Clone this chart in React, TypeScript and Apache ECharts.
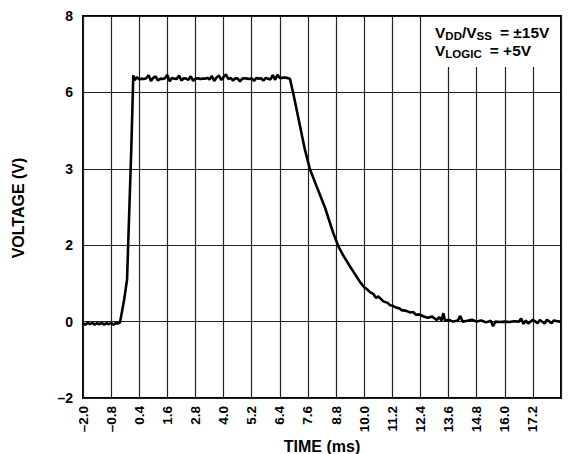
import React, { useEffect, useRef } from "react";
import * as echarts from "echarts";

const xTickLabels = ["–2.0", "–0.8", "0.4", "1.6", "2.8", "4.0", "5.2", "6.4", "7.6", "8.8", "10.0", "11.2", "12.4", "13.6", "14.8", "16.0", "17.2"];
const yTickValues = [-2, 0, 2, 4, 6, 8];
const yTickLabels = ["–2", "0", "2", "3", "6", "8"];

const timeMs = [
  -2.0, -1.9, -1.8, -1.7, -1.6, -1.5, -1.4, -1.3, -1.2, -1.1, -1.0, -0.9, -0.8, -0.7, -0.6, -0.5,
  -0.42, -0.25, -0.12, -0.02, 0.06, 0.146,
  0.2, 0.3, 0.4, 0.5, 0.6, 0.7, 0.8, 0.9, 1.0, 1.1, 1.2, 1.3, 1.4, 1.5, 1.6, 1.7, 1.8, 1.9,
  2.0, 2.1, 2.2, 2.3, 2.4, 2.5, 2.6, 2.7, 2.8, 2.9, 3.0, 3.1, 3.2, 3.3, 3.4, 3.5, 3.6, 3.7, 3.8, 3.9,
  4.0, 4.1, 4.2, 4.3, 4.4, 4.5, 4.6, 4.7, 4.8, 4.9, 5.0, 5.1, 5.2, 5.3, 5.4, 5.5, 5.6, 5.7, 5.8, 5.9,
  6.0, 6.1, 6.2, 6.3, 6.4, 6.5, 6.6, 6.7, 6.83,
  7.0, 7.47, 7.69, 7.97, 8.33, 8.68, 8.9, 9.1, 9.39, 9.6, 9.82, 10.0, 10.1, 10.25, 10.4, 10.5, 10.6, 10.82,
  11.0, 11.1, 11.2, 11.39, 11.5, 11.6, 11.8, 11.95, 12.1, 12.2, 12.35, 12.52, 12.7, 12.9,
  13.1, 13.2, 13.3, 13.38, 13.45, 13.6, 13.8, 14.0, 14.1, 14.2, 14.4, 14.6, 14.8, 15.0, 15.2, 15.4, 15.5, 15.6, 15.8,
  16.0, 16.2, 16.4, 16.6, 16.7, 16.8, 16.9, 17.0, 17.2, 17.4, 17.5, 17.7, 17.8, 18.0, 18.1, 18.3, 18.4
];

const voltage = [
  -0.05, -0.08, -0.03, -0.07, -0.03, -0.08, -0.04, -0.07, -0.03, -0.08, -0.04, -0.07, -0.03, -0.08, -0.04, -0.05,
  -0.02, 0.55, 1.1, 3.0, 4.5, 6.45,
  6.32, 6.40, 6.34, 6.36, 6.35, 6.37, 6.45, 6.30, 6.38, 6.42, 6.31, 6.36, 6.35, 6.37, 6.46, 6.29, 6.38, 6.36,
  6.35, 6.44, 6.31, 6.37, 6.36, 6.33, 6.42, 6.30, 6.36, 6.37, 6.35, 6.36, 6.36, 6.38, 6.34, 6.43, 6.30, 6.39, 6.44, 6.33,
  6.40, 6.47, 6.35, 6.38, 6.31, 6.37, 6.36, 6.29, 6.36, 6.37, 6.36, 6.35, 6.37, 6.30, 6.38, 6.36, 6.37, 6.31, 6.38, 6.36,
  6.34, 6.45, 6.33, 6.46, 6.38, 6.38, 6.39, 6.38, 6.36,
  5.9, 4.5, 3.98, 3.54, 2.98, 2.32, 1.97, 1.74, 1.45, 1.25, 1.04, 0.9, 0.86, 0.77, 0.72, 0.62, 0.66, 0.53,
  0.49, 0.43, 0.42, 0.36, 0.35, 0.30, 0.28, 0.24, 0.25, 0.18, 0.19, 0.14, 0.10, 0.13,
  0.04, 0.12, 0.03, 0.22, 0.02, 0.05, 0.0, 0.03, 0.15, 0.0, 0.02, 0.05, 0.0, 0.03, -0.02, 0.02, -0.12, 0.0, -0.01,
  0.0, -0.01, 0.01, 0.0, 0.08, -0.06, 0.03, -0.05, 0.05, -0.04, 0.04, -0.05, 0.05, -0.04, 0.03, 0.0, 0.01
];

const FONT = "'Liberation Sans', Arial, Helvetica, sans-serif";

export default function App() {
  const ref = useRef<HTMLDivElement>(null);
  useEffect(() => {
    document.body.style.margin = "0";
    const chart = echarts.init(ref.current!, null, { renderer: "svg" });
    const xMin = -2.0;
    const xStep = 1.2;
    chart.setOption({
      animation: false,
      backgroundColor: "#fff",
      grid: { left: 83, right: 14, top: 16, bottom: 56, show: true, borderColor: "#000", borderWidth: 2 },
      xAxis: {
        type: "value",
        min: xMin,
        max: 18.4,
        interval: xStep,
        axisLine: { show: false },
        axisTick: { show: false },
        splitLine: { show: true, lineStyle: { color: "#222", width: 1.2 } },
        axisLabel: {
          rotate: 90,
          margin: 8,
          color: "#000",
          fontFamily: FONT,
          fontWeight: "bold",
          fontSize: 13.5,
          formatter: (v: number) => {
            const i = Math.round((v - xMin) / xStep);
            return xTickLabels[i] ?? "";
          },
        },
      },
      yAxis: {
        type: "value",
        min: -2,
        max: 8,
        interval: 2,
        axisLine: { show: false },
        axisTick: { show: false },
        splitLine: { show: true, lineStyle: { color: "#222", width: 1.2 } },
        axisLabel: {
          margin: 10,
          color: "#000",
          fontFamily: FONT,
          fontWeight: "bold",
          fontSize: 14,
          formatter: (v: number) => {
            const i = yTickValues.indexOf(Math.round(v));
            return i >= 0 ? yTickLabels[i] : "";
          },
        },
      },
      graphic: [
        { type: "rect", z: 100, shape: { x: 424, y: 17, width: 136, height: 50 }, style: { fill: "#fff" } },
        {
          type: "text",
          z: 101,
          x: 435,
          y: 23.5,
          style: {
            text: "{n|V}{s|DD}{n|/V}{s|SS}{eq|= }{n|±15V}\n{n|V}{s|LOGIC}{eq|= }{n|+5V}",
            align: "left",
            verticalAlign: "top",
            fill: "#000",
            rich: {
              n: { fontFamily: FONT, fontWeight: "bold", fontSize: 15.5, lineHeight: 18, verticalAlign: "middle", fill: "#000" },
              eq: { fontFamily: FONT, fontWeight: "bold", fontSize: 15.5, lineHeight: 18, verticalAlign: "middle", fill: "#000", padding: [0, 0, 0, 8] },
              s: { fontFamily: FONT, fontWeight: "bold", fontSize: 11.5, lineHeight: 9, verticalAlign: "bottom", fill: "#000" },
            },
          },
        },
        {
          type: "text",
          z: 101,
          x: 322,
          y: 446,
          style: { text: "TIME (ms)", align: "center", verticalAlign: "middle", fontFamily: FONT, fontWeight: "bold", fontSize: 16, fill: "#000" },
        },
        {
          type: "text",
          z: 101,
          x: 18,
          y: 208,
          rotation: Math.PI / 2,
          style: { text: "VOLTAGE (V)", align: "center", verticalAlign: "middle", fontFamily: FONT, fontWeight: "bold", fontSize: 16, fill: "#000" },
        },
      ],
      series: [
        {
          type: "line",
          data: timeMs.map((t, i) => [t, voltage[i]]),
          showSymbol: false,
          symbol: "none",
          lineStyle: { color: "#000", width: 2.6 },
          z: 5,
        },
      ],
    });
    return () => chart.dispose();
  }, []);
  return <div ref={ref} style={{ position: "absolute", left: 0, top: 0, width: 575, height: 454 }} />;
}
